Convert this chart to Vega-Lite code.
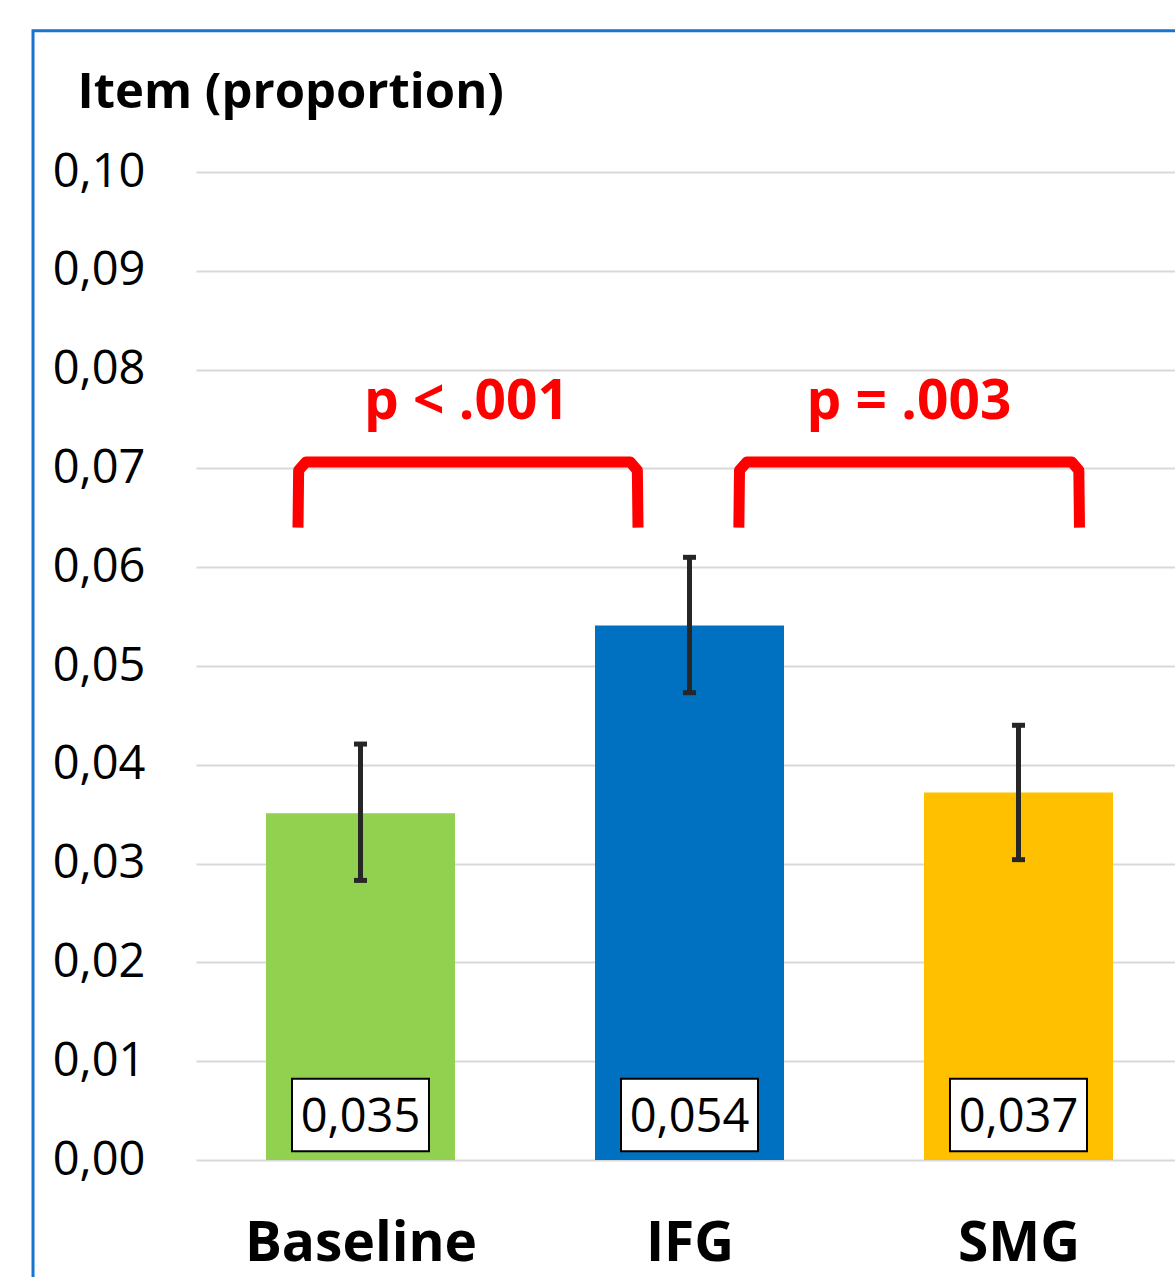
{
  "$schema": "https://vega.github.io/schema/vega-lite/v6.json",
  "autosize": {"type": "none"},
  "padding": {"left": 196, "top": 172, "right": 0, "bottom": 117},
  "width": 979,
  "height": 988,
  "background": "white",
  "config": {
    "font": "Open Sans",
    "view": {"stroke": null},
    "locale": {"number": {"decimal": ",", "thousands": ".", "grouping": [3], "currency": ["", " €"]}}
  },
  "datasets": {
    "bars": [
      {"group": "Baseline", "idx": 1, "value": 0.0351, "lo": 0.0283, "hi": 0.0421},
      {"group": "IFG", "idx": 2, "value": 0.0541, "lo": 0.0473, "hi": 0.0610},
      {"group": "SMG", "idx": 3, "value": 0.0372, "lo": 0.0304, "hi": 0.0440}
    ],
    "brackets": [
      {"b": 1, "o": 1, "x": 0.810, "y": 0.0640},
      {"b": 1, "o": 2, "x": 0.812, "y": 0.0698},
      {"b": 1, "o": 3, "x": 0.834, "y": 0.07065},
      {"b": 1, "o": 4, "x": 1.820, "y": 0.07065},
      {"b": 1, "o": 5, "x": 1.8415, "y": 0.0698},
      {"b": 1, "o": 6, "x": 1.8435, "y": 0.0640},
      {"b": 2, "o": 1, "x": 2.150, "y": 0.0640},
      {"b": 2, "o": 2, "x": 2.152, "y": 0.0698},
      {"b": 2, "o": 3, "x": 2.174, "y": 0.07065},
      {"b": 2, "o": 4, "x": 3.162, "y": 0.07065},
      {"b": 2, "o": 5, "x": 3.1834, "y": 0.0698},
      {"b": 2, "o": 6, "x": 3.1854, "y": 0.0640}
    ],
    "pvals": [
      {"label": "p < .001", "x": 1.322, "y": 0.0750},
      {"label": "p = .003", "x": 2.667, "y": 0.0750}
    ]
  },
  "layer": [
    {
      "data": {"values": [{}]},
      "mark": {"type": "rect", "fill": null, "stroke": "#1874CD", "strokeWidth": 3},
      "encoding": {
        "x": {"datum": 0.0046, "type": "quantitative"},
        "x2": {"datum": 4.2},
        "y": {"datum": 0.1143, "type": "quantitative"},
        "y2": {"datum": -0.03}
      }
    },
    {
      "data": {"name": "bars"},
      "mark": {"type": "bar", "width": 189},
      "encoding": {
        "x": {
          "field": "idx", "type": "quantitative",
          "scale": {"domain": [0.5, 3.4757], "nice": false, "zero": false, "padding": 0},
          "axis": {
            "values": [1, 2, 3],
            "labelExpr": "datum.value == 1 ? 'Baseline' : datum.value == 2 ? 'IFG' : 'SMG'",
            "title": null, "grid": false, "domain": false, "ticks": false,
            "labelFont": "Open Sans", "labelFontSize": 55, "labelFontWeight": "bold",
            "labelColor": "black", "labelBaseline": "alphabetic", "labelPadding": 100,
            "labelFlush": false, "labelOverlap": false, "labelLimit": 0
          }
        },
        "y": {
          "field": "value", "type": "quantitative",
          "scale": {"domain": [0, 0.1], "nice": false, "padding": 0},
          "axis": {
            "values": [0, 0.01, 0.02, 0.03, 0.04, 0.05, 0.06, 0.07, 0.08, 0.09, 0.1],
            "format": ".2f",
            "title": "Item (proportion)",
            "titleAngle": 0, "titleAlign": "left", "titleBaseline": "alphabetic",
            "titleX": -119, "titleY": -65,
            "titleFont": "Open Sans", "titleFontSize": 49, "titleFontWeight": "bold", "titleColor": "black",
            "titleLimit": 0,
            "labelFont": "Open Sans", "labelFontSize": 47, "labelColor": "black", "labelPadding": 51,
            "ticks": false, "domain": false,
            "grid": true, "gridColor": "#D9D9D9", "gridWidth": 2
          }
        },
        "color": {
          "field": "group", "type": "nominal",
          "scale": {"domain": ["Baseline", "IFG", "SMG"], "range": ["#92D050", "#0070C0", "#FFC000"]},
          "legend": null
        }
      }
    },
    {
      "data": {"name": "bars"},
      "mark": {"type": "rule", "color": "#262626", "strokeWidth": 5},
      "encoding": {
        "x": {"field": "idx", "type": "quantitative"},
        "y": {"field": "lo", "type": "quantitative"},
        "y2": {"field": "hi"}
      }
    },
    {
      "data": {"name": "bars"},
      "mark": {"type": "tick", "orient": "horizontal", "color": "#262626", "size": 13, "thickness": 5, "opacity": 1},
      "encoding": {
        "x": {"field": "idx", "type": "quantitative"},
        "y": {"field": "lo", "type": "quantitative"}
      }
    },
    {
      "data": {"name": "bars"},
      "mark": {"type": "tick", "orient": "horizontal", "color": "#262626", "size": 13, "thickness": 5, "opacity": 1},
      "encoding": {
        "x": {"field": "idx", "type": "quantitative"},
        "y": {"field": "hi", "type": "quantitative"}
      }
    },
    {
      "data": {"name": "bars"},
      "mark": {"type": "bar", "width": 137, "fill": "white", "stroke": "black", "strokeWidth": 2},
      "encoding": {
        "x": {"field": "idx", "type": "quantitative"},
        "y": {"datum": 0.00088, "type": "quantitative"},
        "y2": {"datum": 0.00823}
      }
    },
    {
      "data": {"name": "bars"},
      "mark": {"type": "text", "font": "Open Sans", "fontSize": 47, "color": "black", "baseline": "middle", "align": "center", "dy": 2},
      "encoding": {
        "x": {"field": "idx", "type": "quantitative"},
        "y": {"datum": 0.00445, "type": "quantitative"},
        "text": {"field": "value", "type": "quantitative", "format": ".3f"}
      }
    },
    {
      "data": {"name": "brackets"},
      "mark": {"type": "line", "color": "#FF0000", "strokeWidth": 11, "strokeJoin": "round", "strokeCap": "butt"},
      "encoding": {
        "x": {"field": "x", "type": "quantitative"},
        "y": {"field": "y", "type": "quantitative"},
        "detail": {"field": "b", "type": "nominal"},
        "order": {"field": "o", "type": "quantitative"}
      }
    },
    {
      "data": {"name": "pvals"},
      "mark": {"type": "text", "font": "Open Sans", "fontSize": 55, "fontWeight": "bold", "color": "#FF0000", "baseline": "alphabetic", "align": "center"},
      "encoding": {
        "x": {"field": "x", "type": "quantitative"},
        "y": {"field": "y", "type": "quantitative"},
        "text": {"field": "label", "type": "nominal"}
      }
    }
  ]
}
